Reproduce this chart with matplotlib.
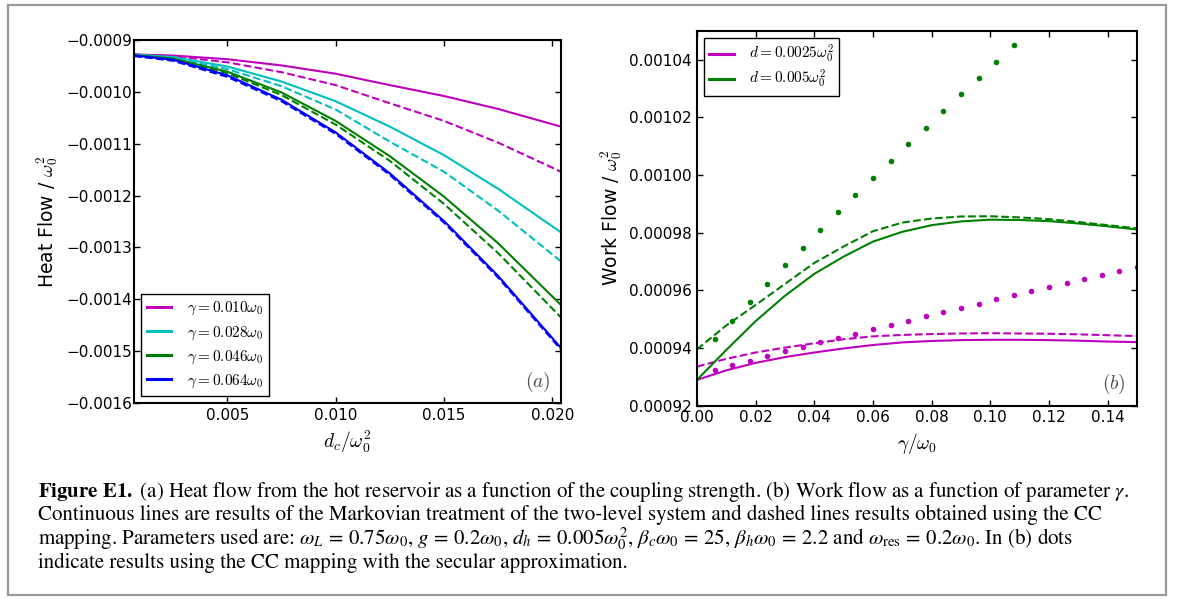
import numpy as np
import matplotlib
matplotlib.use('Agg')
import matplotlib.pyplot as plt
from matplotlib.ticker import FuncFormatter, MultipleLocator
from matplotlib.lines import Line2D
from matplotlib.patches import Rectangle

plt.rcParams['font.family'] = 'DejaVu Sans'
plt.rcParams['mathtext.fontset'] = 'cm'

# ---- (a) heat flow vs coupling strength d_c ----
dc = [0.0007, 0.0025, 0.005, 0.0075, 0.010, 0.0125, 0.015, 0.0175, 0.0204]
gamma_labels = ['0.010', '0.028', '0.046', '0.064']
heat_colors = ['m', 'c', 'g', 'b']
# markovian (solid)
heat_m_010 = [-0.000928, -0.000930, -0.000937, -0.000949, -0.000965, -0.000987, -0.001008, -0.001033, -0.001067]
heat_m_028 = [-0.000928, -0.000933, -0.000951, -0.000980, -0.001018, -0.001067, -0.001122, -0.001187, -0.001271]
heat_m_046 = [-0.000929, -0.000936, -0.000961, -0.001001, -0.001056, -0.001124, -0.001202, -0.001292, -0.001411]
heat_m_064 = [-0.000930, -0.000938, -0.000968, -0.001015, -0.001078, -0.001157, -0.001249, -0.001355, -0.001494]
# CC mapping (dashed)
heat_cc_010 = [-0.000928, -0.000931, -0.000943, -0.000962, -0.000987, -0.001022, -0.001056, -0.001098, -0.001154]
heat_cc_028 = [-0.000929, -0.000935, -0.000956, -0.000989, -0.001034, -0.001096, -0.001154, -0.001229, -0.001327]
heat_cc_046 = [-0.000930, -0.000937, -0.000964, -0.001006, -0.001063, -0.001133, -0.001216, -0.001311, -0.001435]
heat_cc_064 = [-0.000931, -0.000940, -0.000971, -0.001018, -0.001081, -0.001160, -0.001252, -0.001358, -0.001497]

heat_markov = [heat_m_010, heat_m_028, heat_m_046, heat_m_064]
heat_cc = [heat_cc_010, heat_cc_028, heat_cc_046, heat_cc_064]

# ---- (b) work flow vs gamma ----
gam = [0.0, 0.01, 0.02, 0.03, 0.04, 0.05, 0.06, 0.07, 0.08, 0.09, 0.10, 0.11, 0.12, 0.13, 0.14, 0.15]
work_m_0025 = [0.0009289, 0.0009322, 0.0009348, 0.0009368, 0.0009384, 0.0009398, 0.0009410, 0.0009419,
               0.0009424, 0.0009427, 0.0009428, 0.0009428, 0.0009427, 0.0009425, 0.0009422, 0.0009420]
work_cc_0025 = [0.0009335, 0.0009362, 0.0009384, 0.0009401, 0.0009416, 0.0009430, 0.0009440, 0.0009445,
                0.0009448, 0.0009450, 0.0009451, 0.0009450, 0.0009449, 0.0009447, 0.0009444, 0.0009441]
work_m_005 = [0.0009289, 0.0009393, 0.0009493, 0.0009581, 0.0009657, 0.0009717, 0.0009769, 0.0009803,
              0.0009826, 0.0009839, 0.0009845, 0.0009844, 0.0009840, 0.0009832, 0.0009822, 0.0009811]
work_cc_005 = [0.0009395, 0.0009478, 0.0009549, 0.0009622, 0.0009695, 0.0009752, 0.0009805, 0.0009835,
               0.0009849, 0.0009856, 0.0009857, 0.0009853, 0.0009847, 0.0009837, 0.0009826, 0.0009815]

# secular approximation (dots)
gam_dots = [0.006, 0.012, 0.018, 0.024, 0.030, 0.036, 0.042, 0.048, 0.054, 0.060, 0.066, 0.072, 0.078,
            0.084, 0.090, 0.096, 0.102, 0.108, 0.114, 0.120, 0.126, 0.132, 0.138, 0.144, 0.150]
work_sec_0025 = [0.0009324, 0.0009339, 0.0009355, 0.0009372, 0.0009388, 0.0009403, 0.0009419, 0.0009434,
                 0.0009449, 0.0009465, 0.0009480, 0.0009495, 0.0009510, 0.0009525, 0.0009540, 0.0009554,
                 0.0009569, 0.0009583, 0.0009598, 0.0009612, 0.0009626, 0.0009640, 0.0009654, 0.0009668,
                 0.0009682]
work_sec_005 = [0.0009430, 0.0009494, 0.0009558, 0.0009623, 0.0009686, 0.0009748, 0.0009809, 0.0009870,
                0.0009929, 0.0009990, 0.0010049, 0.0010108, 0.0010165, 0.0010224, 0.0010281, 0.0010338,
                0.0010394, 0.0010450]
d_labels = [r'$d=0.0025\omega_0^2$', r'$d=0.005\omega_0^2$']

caption = [
    r'$\mathbf{Figure\ E1.}$ (a) Heat flow from the hot reservoir as a function of the coupling strength. '
    r'(b) Work flow as a function of parameter $\gamma$.',
    'Continuous lines are results of the Markovian treatment of the two-level system and dashed lines '
    'results obtained using the CC',
    r'mapping. Parameters used are: $\omega_L\,=\,0.75\omega_0$, $g\,=\,0.2\omega_0$, '
    r'$d_h\,=\,0.005\omega_0^2$, $\beta_c\omega_0\,=\,25$, $\beta_h\omega_0\,=\,2.2$ and '
    r'$\omega_{\rm res}\,=\,0.2\omega_0$. In (b) dots',
    'indicate results using the CC mapping with the secular approximation.',
]

fig = plt.figure(figsize=(11.82, 5.99), dpi=100)
fig.patch.set_facecolor('white')
fig.add_artist(Rectangle((8 / 1182., 4 / 599.), 1158 / 1182., 590 / 599., transform=fig.transFigure,
                         fill=False, edgecolor='0.6', lw=1.6))


def style_axes(ax):
    for s in ax.spines.values():
        s.set_linewidth(1.5)
    ax.tick_params(which='both', direction='in', top=True, right=True, length=4.5, width=1,
                   labelsize=11)


minus = lambda fmt: FuncFormatter(lambda v, p: (fmt % v).replace('-', '\u2212'))

# panel (a)
ax1 = fig.add_axes([134 / 1182., 1 - 403 / 599., 427 / 1182., 363 / 599.])
style_axes(ax1)
for i in range(4):
    ax1.plot(dc, heat_markov[i], '-', color=heat_colors[i], lw=1.5)
    ax1.plot(dc, heat_cc[i], '--', color=heat_colors[i], lw=1.5)
ax1.set_xlim(0.0007, 0.0204)
ax1.set_ylim(-0.0016, -0.0009)
ax1.xaxis.set_major_locator(MultipleLocator(0.005))
ax1.yaxis.set_major_locator(MultipleLocator(0.0001))
ax1.xaxis.set_major_formatter(minus('%.3f'))
ax1.yaxis.set_major_formatter(minus('%.4f'))
ax1.tick_params(axis='y', pad=1.5)
ax1.set_xlabel(r'$d_c/\omega_0^2$', fontsize=14, labelpad=4)
ax1.set_ylabel(r'Heat Flow / $\omega_0^2$', fontsize=13.5, labelpad=4)
h1 = [Line2D([], [], color=c, lw=2.2) for c in heat_colors]
ax1.legend(h1, [r'$\gamma=%s\omega_0$' % g for g in gamma_labels], loc='lower left', fontsize=11,
           fancybox=False, edgecolor='k', framealpha=1, handlelength=1.6, handletextpad=1.0,
           borderaxespad=0.45, labelspacing=0.45)
ax1.text(0.975, 0.025, r'$(a)$', transform=ax1.transAxes, ha='right', va='bottom', fontsize=14,
         color='0.3')

# panel (b)
ax2 = fig.add_axes([697 / 1182., 1 - 405.5 / 599., 440 / 1182., 374.5 / 599.])
style_axes(ax2)
ax2.plot(gam, work_m_0025, '-', color='m', lw=1.5)
ax2.plot(gam, work_cc_0025, '--', color='m', lw=1.5)
ax2.plot(gam_dots, work_sec_0025, 'o', color='m', ms=4, mec='none')
ax2.plot(gam, work_m_005, '-', color='g', lw=1.5)
ax2.plot(gam, work_cc_005, '--', color='g', lw=1.5)
ax2.plot(gam_dots[:len(work_sec_005)], work_sec_005, 'o', color='g', ms=4, mec='none')
ax2.set_xlim(0, 0.15)
ax2.set_ylim(0.00092, 0.00105)
ax2.xaxis.set_major_locator(MultipleLocator(0.02))
ax2.yaxis.set_major_locator(MultipleLocator(0.00002))
ax2.xaxis.set_major_formatter(minus('%.2f'))
ax2.yaxis.set_major_formatter(minus('%.5f'))
ax2.tick_params(axis='y', pad=4)
ax2.set_xlabel(r'$\gamma/\omega_0$', fontsize=14, labelpad=4)
ax2.set_ylabel(r'Work Flow / $\omega_0^2$', fontsize=13.5, labelpad=3)
h2 = [Line2D([], [], color=c, lw=2.2) for c in ['m', 'g']]
ax2.legend(h2, d_labels, loc='upper left', fontsize=11, fancybox=False, edgecolor='k',
           framealpha=1, handlelength=1.6, handletextpad=1.0, borderaxespad=0.45,
           labelspacing=0.2, borderpad=0.35)
ax2.text(0.975, 0.025, r'$(b)$', transform=ax2.transAxes, ha='right', va='bottom', fontsize=14,
         color='0.3')

# caption
for k, line in enumerate(caption):
    fig.text(38 / 1182., 1 - (491 + 24 * k) / 599., line, ha='left', va='center', fontsize=15,
             family='STIXGeneral', math_fontfamily='stix')

fig.savefig('out.png', dpi=100, facecolor='white')
